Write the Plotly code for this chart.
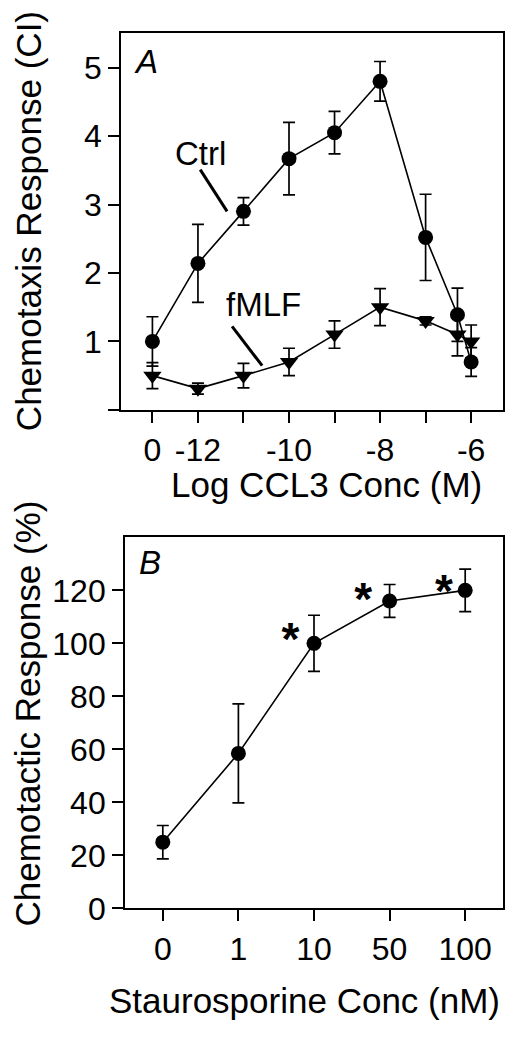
import plotly.graph_objects as go

# ---------------- Panel A data ----------------
a_tick_vals = [-13, -12, -11, -10, -9, -8, -7, -6]
a_tick_text = ["0", "-12", "", "-10", "", "-8", "", "-6"]
a_x = [-13, -12, -11, -10, -9, -8, -7, -6.3, -6]
ctrl_y = [1.0, 2.14, 2.90, 3.67, 4.05, 4.80, 2.52, 1.39, 0.70]
ctrl_err = [0.36, 0.57, 0.20, 0.53, 0.31, 0.29, 0.63, 0.39, 0.21]
fmlf_y = [0.50, 0.31, 0.50, 0.70, 1.10, 1.50, 1.30, 1.10, 1.00]
fmlf_err = [0.19, 0.08, 0.18, 0.20, 0.20, 0.27, 0.06, 0.31, 0.24]

# ---------------- Panel B data ----------------
b_labels = ["0", "1", "10", "50", "100"]
b_x = [0, 1, 2, 3, 4]
b_y = [25.0, 58.5, 100.0, 116.0, 120.0]
b_err = [6.3, 18.7, 10.6, 6.2, 8.0]
star_x = [1.69, 2.65, 3.72]
star_y = [100.0, 115.0, 118.0]

FONT = "Liberation Sans, Arial, Helvetica, sans-serif"
W, H = 522, 1050

fig = go.Figure()

marker_line = dict(width=0)
err_style = dict(type="data", thickness=1.7, width=6, color="black", visible=True)

fig.add_trace(go.Scatter(
    x=a_x, y=ctrl_y, mode="lines+markers",
    line=dict(color="black", width=1.6),
    marker=dict(symbol="circle", size=15, color="black", line=marker_line),
    error_y=dict(array=ctrl_err, **err_style),
    xaxis="x", yaxis="y", showlegend=False, name="Ctrl"))
fig.add_trace(go.Scatter(
    x=a_x, y=fmlf_y, mode="lines+markers",
    line=dict(color="black", width=1.6),
    marker=dict(symbol="triangle-down", size=16, color="black", line=marker_line),
    error_y=dict(array=fmlf_err, **err_style),
    xaxis="x", yaxis="y", showlegend=False, name="fMLF"))
fig.add_trace(go.Scatter(
    x=b_x, y=b_y, mode="lines+markers",
    line=dict(color="black", width=1.6),
    marker=dict(symbol="circle", size=15, color="black", line=marker_line),
    error_y=dict(array=b_err, **err_style),
    xaxis="x2", yaxis="y2", showlegend=False, name="Staurosporine"))
fig.add_trace(go.Scatter(
    x=star_x, y=star_y, mode="text", text=["<b>*</b>"] * len(star_x),
    textfont=dict(family=FONT, size=46, color="black"),
    xaxis="x2", yaxis="y2", showlegend=False, hoverinfo="skip"))

axis_common = dict(
    showline=True, linecolor="black", linewidth=1.8, mirror=True,
    ticks="outside", ticklen=11, tickwidth=1.8, tickcolor="black",
    showgrid=False, zeroline=False,
    tickfont=dict(family=FONT, size=32, color="black"),
)

fig.update_layout(
    width=W, height=H,
    margin=dict(l=0, r=0, t=0, b=0),
    paper_bgcolor="white", plot_bgcolor="white",
    xaxis=dict(domain=[121 / W, 503 / W], range=[-13.69, -5.30],
               tickmode="array", tickvals=a_tick_vals, ticktext=a_tick_text,
               anchor="y", **axis_common),
    yaxis=dict(domain=[1 - 417 / H, 1 - 34 / H], range=[0, 5.5],
               tickmode="array", tickvals=[0, 1, 2, 3, 4, 5],
               ticktext=["", "1", "2", "3", "4", "5"],
               anchor="x", **axis_common),
    xaxis2=dict(domain=[125 / W, 503 / W], range=[-0.5, 4.5],
                tickmode="array", tickvals=b_x, ticktext=b_labels,
                anchor="y2", **axis_common),
    yaxis2=dict(domain=[1 - 924.3 / H, 1 - 546.7 / H], range=[0, 140],
                tickmode="array", tickvals=[0, 20, 40, 60, 80, 100, 120],
                anchor="x2", **axis_common),
)

TITLE = dict(family=FONT, size=35, color="black")
LBL = dict(family=FONT, size=33, color="black")

annotations = [
    dict(text="Chemotaxis Response (CI)", x=28 / W, y=1 - 225 / H, xref="paper", yref="paper",
         textangle=-90, showarrow=False, font=TITLE, xanchor="center", yanchor="middle"),
    dict(text="Log CCL3 Conc (M)", x=326.5 / W, y=1 - 493 / H, xref="paper", yref="paper",
         showarrow=False, font=TITLE, xanchor="center", yanchor="middle"),
    dict(text="Chemotactic Response (%)", x=28 / W, y=1 - 726 / H, xref="paper", yref="paper",
         textangle=-90, showarrow=False, font=TITLE, xanchor="center", yanchor="middle"),
    dict(text="Staurosporine Conc (nM)", x=304.5 / W, y=1 - 1018 / H, xref="paper", yref="paper",
         showarrow=False, font=TITLE, xanchor="center", yanchor="middle"),
    dict(text="<i>A</i>", x=-13.14, y=5.09, xref="x", yref="y", showarrow=False, font=LBL),
    dict(text="<i>B</i>", x=-0.175, y=130.6, xref="x2", yref="y2", showarrow=False, font=LBL),
    dict(text="Ctrl", x=-11.95, y=3.74, xref="x", yref="y", showarrow=False, font=LBL),
    dict(text="fMLF", x=-10.55, y=1.54, xref="x", yref="y", showarrow=False, font=LBL),
]
fig.update_layout(annotations=annotations)

fig.add_shape(type="line", xref="x", yref="y", x0=-11.95, y0=3.51, x1=-11.36, y1=2.90,
              line=dict(color="black", width=3))
fig.add_shape(type="line", xref="x", yref="y", x0=-11.25, y0=1.22, x1=-10.59, y1=0.645,
              line=dict(color="black", width=3))

fig.write_html("out.html", config={"displayModeBar": False},
               post_script="document.body.style.margin='0';document.body.style.overflow='hidden';")
